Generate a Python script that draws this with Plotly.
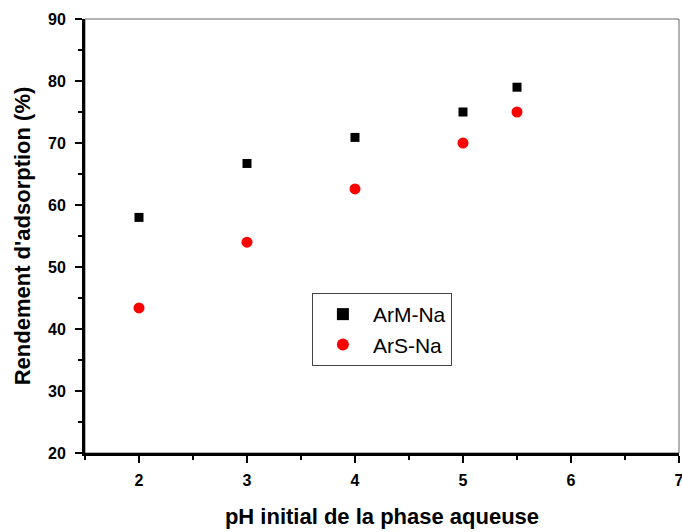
import plotly.graph_objects as go

ph = [2, 3, 4, 5, 5.5]
arm_na = [58.0, 66.7, 70.9, 75.0, 79.0]
ars_na = [43.4, 54.0, 62.6, 70.0, 75.0]

fig = go.Figure()
fig.add_trace(go.Scatter(x=ph, y=arm_na, mode="markers", name="ArM-Na",
                         marker=dict(symbol="square", size=9, color="black")))
fig.add_trace(go.Scatter(x=ph, y=ars_na, mode="markers", name="ArS-Na",
                         marker=dict(symbol="circle", size=11, color="red")))

fig.update_layout(
    width=682, height=532,
    margin=dict(l=85, r=3, t=19, b=79, autoexpand=False),
    plot_bgcolor="white", paper_bgcolor="white",
    font=dict(family="Liberation Sans, Arial", color="black"),
    showlegend=True,
    legend=dict(x=0.382, y=0.3687, xanchor="left", yanchor="top",
                bordercolor="#444", borderwidth=1, bgcolor="white",
                font=dict(size=21, family="Liberation Sans, Arial"),
                itemsizing="constant", itemwidth=50, tracegroupgap=0),
    shapes=[dict(type="rect", xref="paper", yref="paper", x0=0, x1=1, y0=0, y1=1,
                 line=dict(color="#666", width=1), layer="below")],
)
fig.update_xaxes(
    range=[1.5, 7], tickmode="array", tickvals=[2, 3, 4, 5, 6, 7],
    showline=True, linecolor="black", linewidth=3, mirror=False, automargin=False,
    ticks="outside", ticklen=7, tickwidth=2, tickcolor="black",
    minor=dict(tickvals=[1.5, 2.5, 3.5, 4.5, 5.5, 6.5], ticks="outside", ticklen=4, tickwidth=2, tickcolor="black"),
    showgrid=False, zeroline=False, ticklabeloverflow="allow", ticklabelstandoff=4,
    tickfont=dict(size=16, weight="bold"),
    title=dict(text="pH initial de la phase aqueuse", font=dict(size=22, weight="bold"), standoff=21),
)
fig.update_yaxes(
    range=[20, 90], tickmode="array", tickvals=[20, 30, 40, 50, 60, 70, 80, 90],
    showline=True, linecolor="black", linewidth=3, mirror=False, automargin=False,
    ticks="outside", ticklen=7, tickwidth=2, tickcolor="black",
    minor=dict(tickvals=[25, 35, 45, 55, 65, 75, 85], ticks="outside", ticklen=4, tickwidth=2, tickcolor="black"),
    showgrid=False, zeroline=False, ticklabeloverflow="allow", ticklabelstandoff=6,
    tickfont=dict(size=16, weight="bold"),
    title=dict(text="Rendement d'adsorption (%)", font=dict(size=22, weight="bold"), standoff=12),
)

fig.write_html("out.html")
